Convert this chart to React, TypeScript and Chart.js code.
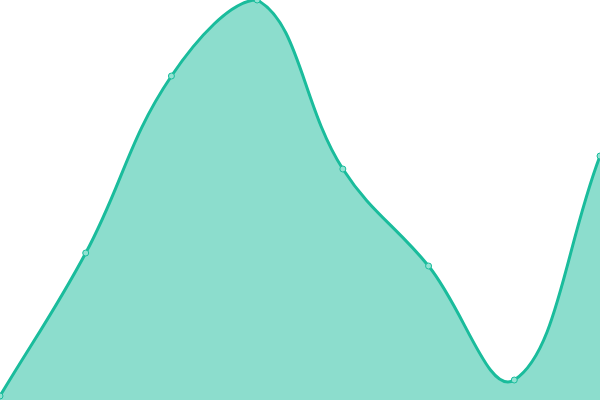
import React, { useEffect, useRef } from 'react';
import { Chart, registerables } from 'chart.js';
Chart.register(...registerables);

const labels = ['1', '2', '3', '4', '5', '6', '7', '8'];
const values = [4, 147, 324, 400, 231, 134, 20, 244];

const lineColor = '#1abc9c';
const fillColor = 'rgba(26, 188, 156, 0.5)';
const pointFill = '#92e2d2';

const App: React.FC = () => {
  const canvasRef = useRef<HTMLCanvasElement>(null);

  useEffect(() => {
    document.body.style.margin = '0';
    let chart: Chart | null = null;
    if (canvasRef.current) {
      chart = new Chart(canvasRef.current, {
        type: 'line',
        data: {
          labels,
          datasets: [{
            data: values,
            borderColor: lineColor,
            backgroundColor: fillColor,
            borderWidth: 3,
            fill: true,
            tension: 0.4,
            pointRadius: 3,
            pointBorderWidth: 1,
            pointBackgroundColor: pointFill,
            pointBorderColor: lineColor,
          }],
        },
        options: {
          animation: false,
          responsive: true,
          maintainAspectRatio: false,
          layout: { padding: 0, autoPadding: false },
          plugins: { legend: { display: false }, tooltip: { enabled: false } },
          scales: {
            x: { display: false },
            y: { display: false, min: 0, max: 400 },
          },
        },
      });
    }
    return () => {
      chart?.destroy();
    };
  }, []);

  return (
    <div style={{ width: 600, height: 400, position: 'relative' }}>
      <canvas ref={canvasRef}></canvas>
    </div>
  );
};

export default App;
